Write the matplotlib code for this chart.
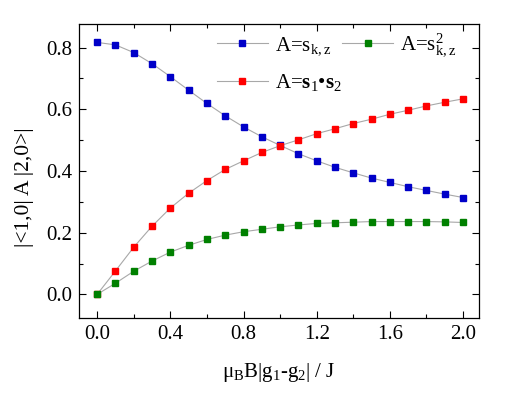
import matplotlib
matplotlib.use("Agg")
import matplotlib.pyplot as plt
from matplotlib.ticker import MultipleLocator
import numpy as np

plt.rcParams['font.family'] = ['Liberation Serif', 'DejaVu Serif']
plt.rcParams['mathtext.fontset'] = 'custom'
plt.rcParams['mathtext.rm'] = 'Liberation Serif'
plt.rcParams['mathtext.it'] = 'Liberation Serif:italic'
plt.rcParams['mathtext.bf'] = 'Liberation Serif:bold'

# field values
field = [0.0, 0.1, 0.2, 0.3, 0.4, 0.5, 0.6, 0.7, 0.8, 0.9, 1.0,
         1.1, 1.2, 1.3, 1.4, 1.5, 1.6, 1.7, 1.8, 1.9, 2.0]
# A = s_{k,z}
skz = [0.817, 0.809, 0.784, 0.748, 0.706, 0.662, 0.619, 0.579, 0.543, 0.511, 0.483,
       0.456, 0.433, 0.412, 0.394, 0.377, 0.363, 0.349, 0.337, 0.325, 0.314]
# A = s1 . s2
s1s2 = [0.0, 0.076, 0.153, 0.221, 0.280, 0.328, 0.369, 0.405, 0.433, 0.460, 0.482,
        0.501, 0.521, 0.537, 0.554, 0.568, 0.584, 0.597, 0.611, 0.623, 0.634]
# A = s^2_{k,z}
skz2 = [0.0, 0.036, 0.075, 0.108, 0.137, 0.159, 0.178, 0.192, 0.203, 0.211, 0.219,
        0.225, 0.230, 0.232, 0.234, 0.236, 0.236, 0.236, 0.236, 0.235, 0.233]

LINE_COLOR = "#a8a8a8"
MS = 5.0


def main():
    fig = plt.figure(figsize=(5.09, 3.97), dpi=100)
    ax = fig.add_axes([0.155, 0.198, 0.787, 0.741])

    ax.plot(field, skz, '-s', color=LINE_COLOR, lw=0.8, ms=MS, mfc='#0000c8', mec='#0000c8',
            label=r'A=s$_{\rm k,z}$')
    ax.plot(field, s1s2, '-s', color=LINE_COLOR, lw=0.8, ms=MS, mfc='#ff0000', mec='#ff0000',
            label=r'A=$\mathbf{s}_{1}$•$\mathbf{s}_{2}$')
    ax.plot(field, skz2, '-s', color=LINE_COLOR, lw=0.8, ms=MS, mfc='#008000', mec='#008000',
            label=r'A=s$^{2}_{\rm k,z}$')

    ax.set_xlim(-0.1, 2.09)
    ax.set_ylim(-0.078, 0.876)
    ax.xaxis.set_major_locator(MultipleLocator(0.4))
    ax.xaxis.set_minor_locator(MultipleLocator(0.2))
    ax.yaxis.set_major_locator(MultipleLocator(0.2))
    ax.yaxis.set_minor_locator(MultipleLocator(0.1))
    ax.xaxis.set_major_formatter(lambda v, p: f"{v:.1f}")
    ax.yaxis.set_major_formatter(lambda v, p: f"{v:.1f}")
    ax.tick_params(which='both', direction='in', top=True, right=True, labelsize=15, width=0.8)
    ax.tick_params(which='major', length=5, pad=4.5)
    ax.tick_params(which='minor', length=3)
    for s in ax.spines.values():
        s.set_linewidth(0.9)

    ax.set_xlabel(r'μ$_{\rm B}$B|g$_{1}$-g$_{2}$| / J', fontsize=15)
    ax.set_ylabel(r'|<1,0| A |2,0>|', fontsize=15.5)
    ax.xaxis.set_label_coords(0.5, -0.145)
    ax.yaxis.set_label_coords(-0.112, 0.447)

    ax.legend(loc='upper left', bbox_to_anchor=(0.344, 0.975), ncol=2, frameon=False,
              fontsize=15, handlelength=2.45, handletextpad=0.35, columnspacing=0.0,
              borderpad=0, borderaxespad=0, labelspacing=0.75)

    fig.savefig('out.png', dpi=100)
    plt.close()


if __name__ == "__main__":
    main()
